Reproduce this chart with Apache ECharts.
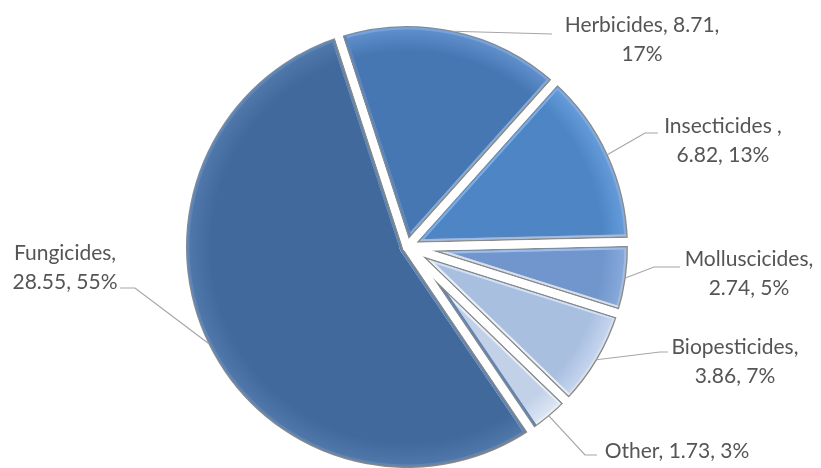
<!DOCTYPE html>
<html>
<head>
<meta charset="utf-8">
<script src="https://cdn.jsdelivr.net/npm/echarts@6/dist/echarts.min.js"></script>
<style>
  html, body { margin: 0; padding: 0; background: #ffffff; }
  #chart { width: 821px; height: 468px; }
</style>
</head>
<body>
<div id="chart"></div>
<script>
// Pesticide market split (value, share of total)
const categories = ['Herbicides', 'Insecticides ', 'Molluscicides', 'Biopesticides', 'Other', 'Fungicides'];
const values = [8.71, 6.82, 2.74, 3.86, 1.73, 28.55];

// How each label breaks over lines
const labelTemplates = [
  '{b}, {c},\n{d}%',
  '{b},\n{c}, {d}%',
  '{b},\n{c}, {d}%',
  '{b},\n{c}, {d}%',
  '{b}, {c}, {d}%',
  '{b},\n{c}, {d}%'
];

// Slice fills: base tone, bevel band and rim highlight
const baseColors  = ['#4677b3', '#4d85c5', '#7096cd', '#a9bfe0', '#c2d1e8', '#41699b'];
const bevelColors = ['#76a3da', '#7aabe4', '#9dbce7', '#d3e0f3', '#e6eef8', '#5f85b5'];
const rimColors   = ['#5f8ecb', '#649ad8', '#86a9db', '#c3d4ee', '#dbe5f4', '#4f77a9'];

// Label anchors (text centre) and leader-line elbows, in pixels
const labelSpots = [
  { x: 642, y: 40,  elbow: [[552, 34], [552, 34]] },
  { x: 723, y: 141, elbow: [[645, 133], [658, 133]] },
  { x: 749, y: 274, elbow: [[654, 267], [680, 267]] },
  { x: 735, y: 362, elbow: [[660, 352], [668, 352]] },
  { x: 677, y: 451, elbow: [[585, 455], [597, 455]] },
  { x: 65,  y: 268, elbow: [[135, 288], [120, 288]] }
];

const CX = 407, CY = 247, R = 225;
const GAP = 8;          // white gap between slices
const OUTLINE = 1.3;    // grey edge line
const BEVEL = 2.2;      // light band inside the edge
const START_ANGLE = 108;

const chart = echarts.init(document.getElementById('chart'), null, { renderer: 'canvas' });

function sliceData(styleOf) {
  return categories.map((name, i) => ({
    name: name,
    value: values[i],
    itemStyle: styleOf(i)
  }));
}

function pieLayer(radius, styleOf) {
  return {
    type: 'pie',
    silent: true,
    z: 1,
    center: [CX, CY],
    radius: radius,
    startAngle: START_ANGLE,
    clockwise: true,
    label: { show: false },
    labelLine: { show: false },
    emphasis: { disabled: true },
    data: sliceData(styleOf)
  };
}

// Edge strokes: each is centred on the slice outline, so stacking
// wide-to-narrow leaves bevel, grey line, then white gap.
function edgeLayer(colorOf, width) {
  return pieLayer(R, i => ({
    color: 'rgba(0,0,0,0)',
    borderColor: colorOf(i),
    borderWidth: width,
    borderJoin: 'round'
  }));
}

const fillLayer = pieLayer(R, i => ({
  color: {
    type: 'radial', x: CX, y: CY, r: R - GAP / 2 - OUTLINE - BEVEL, global: true,
    colorStops: [
      { offset: 0, color: baseColors[i] },
      { offset: 0.9, color: baseColors[i] },
      { offset: 1, color: rimColors[i] }
    ]
  }
}));

// Outer white ring hides stroke spill beyond the pie
const ringLayer = pieLayer([R - 0.5, R + 12], () => ({
  color: '#ffffff', borderColor: '#ffffff', borderWidth: 1
}));

// Transparent top layer carrying labels and leader lines
const labelLayer = {
  type: 'pie',
  silent: true,
  z: 5,
  center: [CX, CY],
  radius: R,
  startAngle: START_ANGLE,
  clockwise: true,
  percentPrecision: 0,
  avoidLabelOverlap: false,
  emphasis: { disabled: true },
  itemStyle: { color: 'rgba(0,0,0,0)', borderWidth: 0 },
  label: {
    show: true,
    position: 'outside',
    fontFamily: 'Lato',
    fontSize: 21,
    lineHeight: 29,
    color: '#555555',
    align: 'center'
  },
  labelLine: {
    show: true,
    length: 10,
    length2: 10,
    lineStyle: { color: '#a6a6a6', width: 1.2 }
  },
  labelLayout: function (params) {
    const spot = labelSpots[params.dataIndex];
    let start = spot.elbow[0];
    if (params.labelLinePoints) {
      // pull the line start back onto the visible slice edge
      const p = params.labelLinePoints[0];
      const dx = p[0] - CX, dy = p[1] - CY;
      const len = Math.sqrt(dx * dx + dy * dy) || 1;
      const edge = R - GAP / 2 - 0.5;
      start = [CX + dx / len * edge, CY + dy / len * edge];
    }
    return {
      x: spot.x,
      y: spot.y,
      align: 'center',
      verticalAlign: 'middle',
      labelLinePoints: [start, spot.elbow[0], spot.elbow[1]]
    };
  },
  data: categories.map((name, i) => ({
    name: name,
    value: values[i],
    label: { formatter: labelTemplates[i] }
  }))
};

chart.setOption({
  backgroundColor: '#ffffff',
  animation: false,
  series: [
    fillLayer,
    edgeLayer(i => bevelColors[i], GAP + 2 * (OUTLINE + BEVEL)),
    edgeLayer(() => '#8a8a8a', GAP + 2 * OUTLINE),
    edgeLayer(() => '#ffffff', GAP),
    ringLayer,
    labelLayer
  ]
});
</script>
</body>
</html>
